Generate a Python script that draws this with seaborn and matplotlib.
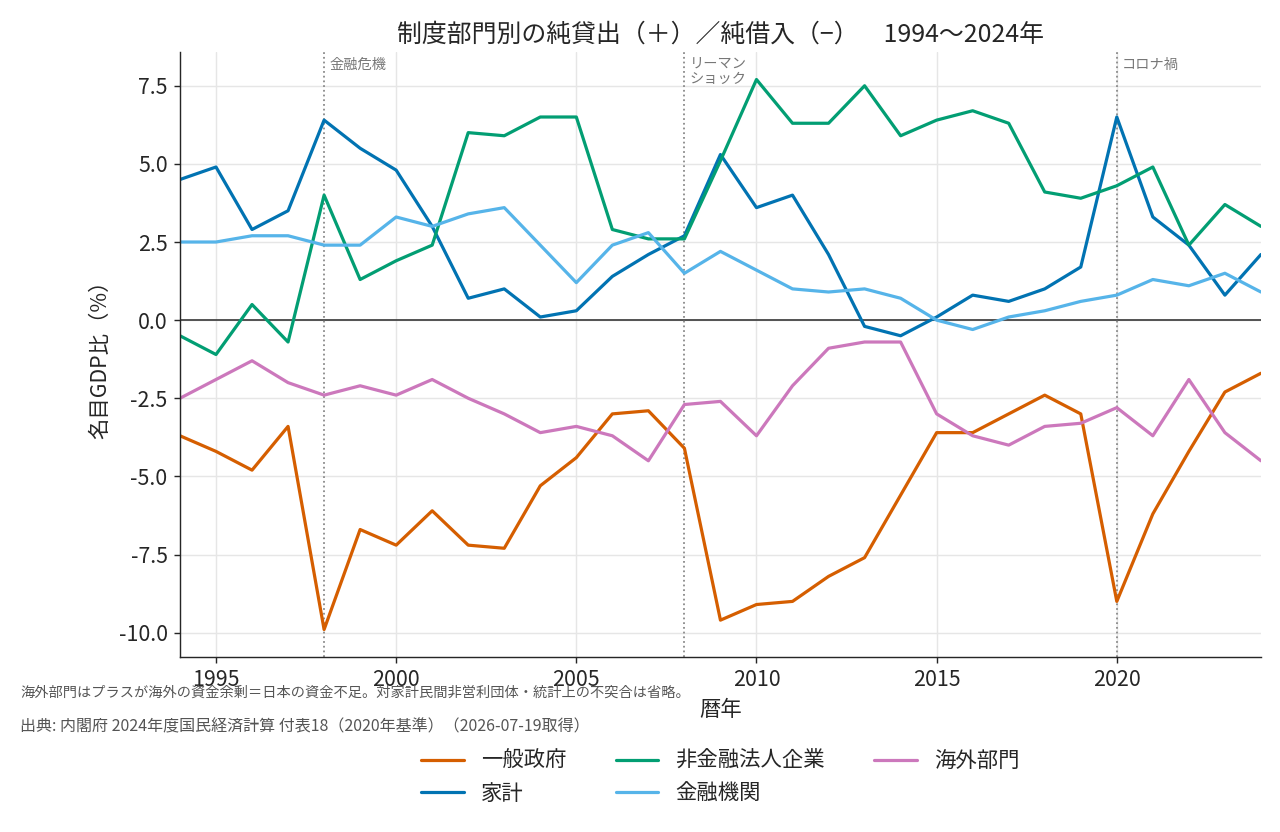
import pandas as pd
import matplotlib.pyplot as plt
import seaborn as sns

years = list(range(1994, 2025))
sectors = ["一般政府", "家計", "非金融法人企業", "金融機関", "海外部門"]

gov = [-3.7, -4.2, -4.8, -3.4, -9.9, -6.7, -7.2, -6.1, -7.2, -7.3,
       -5.3, -4.4, -3.0, -2.9, -4.1, -9.6, -9.1, -9.0, -8.2, -7.6,
       -5.6, -3.6, -3.6, -3.0, -2.4, -3.0, -9.0, -6.2, -4.2, -2.3, -1.7]
household = [4.5, 4.9, 2.9, 3.5, 6.4, 5.5, 4.8, 3.0, 0.7, 1.0,
             0.1, 0.3, 1.4, 2.1, 2.7, 5.3, 3.6, 4.0, 2.1, -0.2,
             -0.5, 0.1, 0.8, 0.6, 1.0, 1.7, 6.5, 3.3, 2.4, 0.8, 2.1]
nonfin = [-0.5, -1.1, 0.5, -0.7, 4.0, 1.3, 1.9, 2.4, 6.0, 5.9,
          6.5, 6.5, 2.9, 2.6, 2.6, 5.1, 7.7, 6.3, 6.3, 7.5,
          5.9, 6.4, 6.7, 6.3, 4.1, 3.9, 4.3, 4.9, 2.4, 3.7, 3.0]
financial = [2.5, 2.5, 2.7, 2.7, 2.4, 2.4, 3.3, 3.0, 3.4, 3.6,
             2.4, 1.2, 2.4, 2.8, 1.5, 2.2, 1.6, 1.0, 0.9, 1.0,
             0.7, 0.0, -0.3, 0.1, 0.3, 0.6, 0.8, 1.3, 1.1, 1.5, 0.9]
overseas = [-2.5, -1.9, -1.3, -2.0, -2.4, -2.1, -2.4, -1.9, -2.5, -3.0,
            -3.6, -3.4, -3.7, -4.5, -2.7, -2.6, -3.7, -2.1, -0.9, -0.7,
            -0.7, -3.0, -3.7, -4.0, -3.4, -3.3, -2.8, -3.7, -1.9, -3.6, -4.5]

events = [1998, 2008, 2020]
event_labels = ["金融危機", "リーマン\nショック", "コロナ禍"]

pal = {"一般政府": "#D55E00", "家計": "#0173B2", "非金融法人企業": "#029E73",
       "金融機関": "#56B4E9", "海外部門": "#CC78BC"}

frames = []
for name, vals in zip(sectors, [gov, household, nonfin, financial, overseas]):
    frames.append(pd.DataFrame({"year": years, "value": vals, "sector": name}))
df = pd.concat(frames, ignore_index=True)

sns.set_style("ticks")
plt.rcParams["font.family"] = ["Noto Sans CJK JP", "DejaVu Sans"]
plt.rcParams["axes.unicode_minus"] = False

fig = plt.figure(figsize=(10, 6.5), dpi=128)
ax = fig.add_axes([0.1406, 0.2103, 0.8445, 0.7272])

ax.grid(True, color="#e6e6e6", linewidth=0.8)
ax.set_axisbelow(True)
ax.axhline(0, color="#444444", linewidth=1.0, zorder=1)
for yr, lab in zip(events, event_labels):
    ax.axvline(yr, color="#888888", linestyle=":", linewidth=1.0, zorder=1)
    ax.text(yr + 0.15, 0.99, lab, transform=ax.get_xaxis_transform(),
            ha="left", va="top", fontsize=8, color="#777777", linespacing=1.0)

sns.lineplot(data=df, x="year", y="value", hue="sector", hue_order=sectors,
             palette=pal, linewidth=1.8, ax=ax)

ax.set_xlim(1994, 2024)
ax.set_xlabel("暦年", fontsize=12)
ax.set_ylabel("名目GDP比（%）", fontsize=12)
ax.tick_params(labelsize=12)
ax.set_title("制度部門別の純貸出（＋）／純借入（−）　1994〜2024年", fontsize=14)
sns.despine(ax=ax)

handles, labels = ax.get_legend_handles_labels()
ax.legend(handles, labels, loc="upper center", bbox_to_anchor=(0.5, -0.122),
          ncol=3, frameon=False, fontsize=12, columnspacing=2.3)

fig.text(0.0156, 0.167, "海外部門はプラスが海外の資金余剰＝日本の資金不足。対家計民間非営利団体・統計上の不突合は省略。",
         fontsize=8, color="#555555", va="center")
fig.text(0.0156, 0.126, "出典: 内閣府 2024年度国民経済計算 付表18（2020年基準）（2026-07-19取得）",
         fontsize=9, color="#555555", va="center")

fig.savefig("out.png", dpi=128)
